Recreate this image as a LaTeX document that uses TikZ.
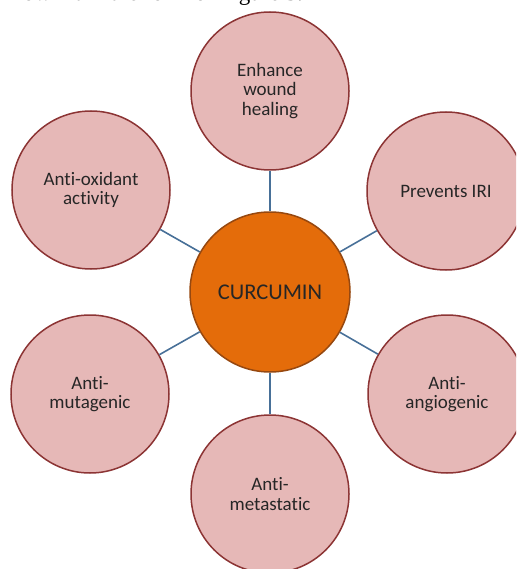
\documentclass[tikz,border=0pt]{standalone}
\usepackage{fontspec}
\setmainfont{Carlito}[Ligatures=NoCommon]
\newfontfamily\captionfont{Liberation Serif}
\definecolor{petalFill}{RGB}{230,184,183}
\definecolor{petalDraw}{RGB}{140,52,52}
\definecolor{coreFill}{RGB}{228,108,10}
\definecolor{coreDraw}{RGB}{150,72,16}
\definecolor{linkDraw}{RGB}{72,112,152}

\begin{document}
\begin{tikzpicture}[%%
  x=1pt,y=-1pt,
  lineStyle/.style={-,linkDraw,line width=1.6pt},%%
  petalStyle/.style={draw=petalDraw,fill=petalFill,circle,line width=1.5pt,
    minimum size=158pt,inner sep=0pt,align=center,text=black!85,
    font=\fontsize{19}{19.5}\selectfont},%%
  coreStyle/.style={draw=coreDraw,fill=coreFill,circle,line width=1.5pt,
    minimum size=160pt,inner sep=0pt,text=black!85,
    font=\fontsize{22.5}{26}\selectfont}
]
%%
%% Fix the page size.
\useasboundingbox (0,0) rectangle (516,569);
\clip (0,0) rectangle (516,569);
%%
%% Centre of the petals.
\coordinate (centre) at (270,292);
%%
%% Text cut off at the top.
\node[anchor=base east,inner sep=0pt,font=\captionfont\fontsize{23}{27}\selectfont]
  (caption) at (303,0.5) {own it in the form of Figure 3.};
%%
%% The petals.
\node[petalStyle] (wound) at (270,91) {Enhance\\wound\\healing};
\node[petalStyle] (iri) at (446,191) {Prevents IRI};
\node[petalStyle] (angio) at (447,394) {Anti-\\angiogenic};
\node[petalStyle] (meta) at (270,494) {Anti-\\metastatic};
\node[petalStyle] (muta) at (90,394) {Anti-\\mutagenic};
\node[petalStyle] (oxid) at (91,190) {Anti-oxidant\\activity};
%%
%% The core.
\node[coreStyle] (curcumin) at (centre) {CURCUMIN};
%%
%% Connect the core to each petal.
\foreach \petal in {wound,iri,angio,meta,muta,oxid}{
  \draw[lineStyle] (curcumin) -- (\petal);
}
\end{tikzpicture}
\end{document}
